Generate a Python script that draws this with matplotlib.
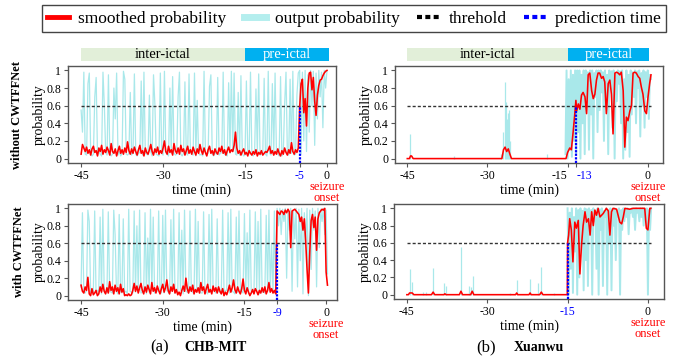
"""
Seizure prediction probability curves (CHB-MIT vs Xuanwu, with / without CWTFFNet)
"""

import numpy as np
import matplotlib
matplotlib.use('Agg')
import matplotlib.pyplot as plt
from matplotlib.lines import Line2D
from matplotlib.patches import Rectangle

plt.rcParams['font.family'] = 'Liberation Serif'

# ---------------- CHB-MIT (one sample every 0.25 min from -45 min) ----------------
chb_step = 0.25

chb_wo_smooth = [
    0.05, 0.16, 0.12, 0.08, 0.13, 0.06, 0.10, 0.04, 0.11, 0.14, 0.07, 0.09, 0.03, 0.12, 0.08, 0.15, 0.05, 0.10, 0.07, 0.13,
    0.09, 0.04, 0.17, 0.08, 0.06, 0.11, 0.03, 0.09, 0.14, 0.06, 0.10, 0.05, 0.12, 0.07, 0.19, 0.09, 0.05, 0.11, 0.06, 0.13,
    0.08, 0.04, 0.10, 0.15, 0.06, 0.09, 0.03, 0.12, 0.07, 0.05, 0.10, 0.16, 0.08, 0.04, 0.11, 0.07, 0.13, 0.05, 0.09, 0.06,
    0.12, 0.20, 0.08, 0.05, 0.14, 0.07, 0.10, 0.04, 0.17, 0.09, 0.06, 0.12, 0.05, 0.15, 0.08, 0.11, 0.04, 0.09, 0.14, 0.06,
    0.10, 0.05, 0.13, 0.08, 0.04, 0.11, 0.06, 0.16, 0.09, 0.05, 0.12, 0.07, 0.03, 0.10, 0.14, 0.06, 0.09, 0.04, 0.11, 0.07,
    0.05, 0.12, 0.08, 0.14, 0.06, 0.10, 0.04, 0.09, 0.13, 0.07, 0.10, 0.08, 0.15, 0.30, 0.12, 0.06, 0.09, 0.04, 0.08, 0.11,
    0.05, 0.07, 0.03, 0.09, 0.06, 0.04, 0.08, 0.05, 0.10, 0.03, 0.07, 0.05, 0.09, 0.04, 0.06, 0.08, 0.07, 0.10, 0.14, 0.06,
    0.09, 0.04, 0.08, 0.05, 0.11, 0.06, 0.03, 0.09, 0.05, 0.12, 0.07, 0.04, 0.10, 0.06, 0.18, 0.08, 0.05, 0.10, 0.07, 0.12,
    0.58, 0.85, 0.90, 0.52, 0.68, 0.37, 0.80, 0.97, 0.98, 0.78, 0.92, 0.65, 0.49, 0.72, 0.83, 0.89, 0.90, 0.94, 0.97, 0.99,
    1.00,
]
chb_wo_output = [
    0.55, 0.30, 0.98, 0.05, 0.04, 0.85, 0.97, 0.06, 0.03, 0.05, 0.70, 0.92, 0.04, 0.08, 0.05, 0.03, 0.98, 0.60, 0.07, 0.04,
    0.95, 0.06, 0.03, 0.05, 0.80, 0.45, 0.97, 0.04, 0.08, 0.03, 0.06, 0.99, 0.90, 0.05, 0.04, 0.06, 0.75, 0.04, 0.08, 0.96,
    0.05, 0.03, 0.06, 0.07, 0.88, 0.04, 0.98, 0.06, 0.05, 0.04, 0.72, 0.08, 0.03, 0.95, 0.62, 0.05, 0.04, 0.03, 0.97, 0.06,
    0.04, 0.99, 0.07, 0.05, 0.03, 0.80, 0.06, 0.93, 0.06, 0.04, 0.05, 0.70, 0.98, 0.05, 0.03, 0.06, 0.87, 0.06, 0.04, 0.96,
    0.08, 0.05, 0.04, 0.97, 0.03, 0.66, 0.06, 0.04, 0.05, 0.03, 0.99, 0.07, 0.04, 0.06, 0.82, 0.95, 0.05, 0.03, 0.07, 0.05,
    0.92, 0.04, 0.06, 0.07, 0.98, 0.05, 0.04, 0.03, 0.86, 0.06, 0.99, 0.08, 0.97, 0.05, 0.04, 0.75, 0.04, 0.94, 0.06, 0.03,
    0.04, 0.88, 0.06, 0.05, 0.98, 0.05, 0.03, 0.06, 0.79, 0.07, 0.96, 0.04, 0.05, 0.06, 0.91, 0.05, 0.03, 0.99, 0.06, 0.04,
    0.85, 0.04, 0.97, 0.07, 0.05, 0.03, 0.93, 0.03, 0.06, 0.62, 0.98, 0.05, 0.04, 0.90, 0.06, 0.99, 0.04, 0.05, 0.72, 0.97,
    1.00, 0.05, 0.98, 0.20, 1.00, 0.08, 0.95, 0.30, 1.00, 0.60, 0.99, 0.15, 0.97, 0.45, 1.00, 0.70, 0.98, 0.35, 1.00, 0.80,
    1.00,
]
chb_wo_pred = -5

chb_w_smooth = [
    0.12, 0.05, 0.03, 0.10, 0.06, 0.21, 0.02, 0.00, 0.08, 0.01, 0.03, 0.06, 0.00, 0.02, 0.10, 0.04, 0.13, 0.05, 0.02, 0.09,
    0.03, 0.16, 0.06, 0.10, 0.02, 0.12, 0.05, 0.09, 0.02, 0.13, 0.04, 0.08, 0.00, 0.01, 0.00, 0.02, 0.00, 0.01, 0.06, 0.14,
    0.05, 0.11, 0.03, 0.09, 0.14, 0.06, 0.02, 0.10, 0.04, 0.12, 0.07, 0.02, 0.15, 0.05, 0.09, 0.03, 0.11, 0.06, 0.02, 0.08,
    0.13, 0.04, 0.09, 0.18, 0.06, 0.02, 0.10, 0.05, 0.13, 0.03, 0.07, 0.01, 0.04, 0.00, 0.06, 0.11, 0.05, 0.20, 0.08, 0.03,
    0.10, 0.05, 0.12, 0.02, 0.07, 0.04, 0.09, 0.03, 0.15, 0.06, 0.10, 0.02, 0.08, 0.13, 0.04, 0.07, 0.02, 0.11, 0.05, 0.09,
    0.03, 0.10, 0.05, 0.02, 0.08, 0.00, 0.04, 0.01, 0.06, 0.12, 0.04, 0.09, 0.18, 0.07, 0.03, 0.10, 0.05, 0.02, 0.08, 0.19,
    0.06, 0.02, 0.09, 0.04, 0.00, 0.03, 0.07, 0.02, 0.08, 0.05, 0.01, 0.06, 0.03, 0.09, 0.04, 0.10, 0.02, 0.06, 0.15, 0.04,
    0.08, 0.03, 0.06, 0.02, 0.97, 0.95, 0.93, 0.97, 0.96, 0.93, 0.98, 0.95, 0.99, 0.96, 0.55, 0.97, 0.98, 0.99, 0.97, 0.95,
    0.93, 0.85, 0.90, 0.75, 0.88, 0.62, 0.30, 0.03, 0.50, 0.86, 0.93, 0.78, 0.90, 0.52, 0.88, 0.95, 0.97, 0.99, 0.98, 1.00,
    0.27, 0.12,
]
chb_w_output = [
    0.10, 0.95, 0.05, 0.03, 0.06, 0.98, 0.85, 0.04, 0.05, 0.03, 0.97, 0.03, 0.06, 0.05, 0.90, 0.02, 0.99, 0.06, 0.04, 0.03,
    0.96, 0.05, 0.04, 0.03, 0.98, 0.70, 0.05, 0.02, 0.93, 0.05, 0.03, 0.88, 0.04, 0.05, 0.02, 0.99, 0.05, 0.04, 0.03, 0.97,
    0.04, 0.80, 0.06, 0.98, 0.03, 0.04, 0.05, 0.95, 0.02, 0.66, 0.04, 0.99, 0.06, 0.90, 0.03, 0.05, 0.05, 0.97, 0.04, 0.03,
    0.92, 0.03, 0.98, 0.06, 0.04, 0.02, 0.87, 0.05, 0.99, 0.03, 0.05, 0.04, 0.95, 0.06, 0.75, 0.02, 0.98, 0.05, 0.04, 0.03,
    0.97, 0.05, 0.04, 0.02, 0.99, 0.04, 0.85, 0.06, 0.03, 0.03, 0.96, 0.05, 0.04, 0.02, 0.93, 0.04, 0.99, 0.06, 0.05, 0.03,
    0.88, 0.05, 0.04, 0.02, 0.98, 0.04, 0.06, 0.06, 0.95, 0.03, 0.99, 0.05, 0.04, 0.02, 0.90, 0.04, 0.97, 0.06, 0.05, 0.03,
    0.94, 0.04, 0.72, 0.02, 0.98, 0.05, 0.04, 0.03, 0.96, 0.06, 0.85, 0.02, 0.99, 0.04, 0.05, 0.03, 0.92, 0.05, 0.98, 0.04,
    0.60, 0.03, 0.97, 0.05, 1.00, 0.80, 1.00, 0.70, 0.99, 0.85, 1.00, 0.20, 0.98, 0.75, 1.00, 0.05, 0.97, 0.65, 1.00, 0.10,
    0.99, 0.40, 1.00, 0.02, 0.95, 0.60, 1.00, 0.00, 0.98, 0.30, 1.00, 0.75, 0.97, 0.10, 1.00, 0.55, 0.99, 0.85, 1.00, 0.70,
    0.98, 0.25,
]
chb_w_pred = -9

# ---------------- Xuanwu ----------------
# smoothed probability (time in min, value)
xw_wo_smooth_t = [-45.0, -44.6, -44.4, -44.2, -43.9, -27.3, -27.0, -26.7, -26.4, -26.1, -25.8, -25.5,
                  -15.3, -15.0, -14.6, -14.3, -13.95, -13.65, -13.45, -13.3, -13.0, -12.7, -12.4, -12.1,
                  -11.75, -11.45, -11.15, -10.85, -10.5, -10.2, -9.9, -9.6, -9.3, -9.0, -8.65, -8.35,
                  -8.05, -7.75, -7.4, -7.1, -6.8, -6.5, -6.15, -5.85, -5.55, -5.25, -4.95, -4.6,
                  -4.3, -4.0, -3.7, -3.35, -3.05, -2.75, -2.45, -2.15, -1.8, -1.5, -1.2, -0.9,
                  -0.55, -0.25, 0.05, 0.35, 0.6]
xw_wo_smooth_p = [0.0, 0.0, 0.03, 0.03, 0.0, 0.0, 0.10, 0.13, 0.08, 0.11, 0.05, 0.0,
                  0.0, 0.07, 0.12, 0.10, 0.31, 0.51, 0.66, 0.54, 0.62, 0.56, 0.72, 0.75,
                  0.70, 0.51, 0.95, 0.97, 0.77, 0.68, 0.73, 0.89, 0.97, 0.97, 0.91, 0.93,
                  0.87, 0.51, 0.85, 0.89, 0.73, 0.28, 0.97, 0.98, 0.97, 0.95, 0.98, 0.77,
                  0.13, 0.47, 0.43, 0.54, 0.60, 0.97, 0.98, 0.97, 0.93, 0.91, 0.81, 0.73,
                  0.54, 0.51, 0.70, 0.85, 0.95]
# isolated output spikes in the inter-ictal part (time, height)
xw_wo_spike_t = [-44.45, -36.2, -27.4, -27.1, -26.8, -26.6, -26.4, -26.2, -26.0, -25.8, -18.9]
xw_wo_spike_p = [0.28, 0.03, 0.05, 0.30, 0.87, 0.64, 0.45, 0.52, 0.55, 0.20, 0.05]
# dense output around the pre-ictal part, one sample every 0.2 min
xw_wo_dense_t0 = -15.4
xw_wo_dense = [
    0.05, 1.0, 0.0, 0.9, 0.1, 1.0, 0.02, 0.95, 0.2, 1.0, 0.05, 1.0, 0.3,
    1.0, 0.0, 0.95, 0.4, 1.0, 0.05, 1.0, 0.6, 0.98, 0.1, 1.0, 0.5, 1.0, 0.0, 0.97, 0.7, 1.0, 0.3, 1.0, 0.55,
    1.0, 0.75, 0.98, 0.2, 1.0, 0.6, 0.95, 0.05, 1.0, 0.8, 0.99, 0.35, 1.0, 0.0, 0.97, 0.65, 1.0, 0.85, 0.99, 0.4,
    1.0, 0.0, 0.9, 0.1, 1.0, 0.3, 0.95, 0.02, 1.0, 0.5, 0.98, 0.7, 1.0, 0.4, 0.99, 0.8, 1.0, 0.25, 0.97, 0.6,
    1.0, 0.35, 0.98, 0.7, 1.0, 0.45, 0.95, 0.9,
]
xw_wo_pred = -13.4

xw_w_smooth_t = [-45.0, -44.7, -44.5, -44.3, -44.0, -43.7, -40.4, -40.1, -39.8, -38.1, -37.9, -37.7,
                 -35.2, -34.9, -34.6, -33.1, -32.8, -32.5, -24.7, -24.5, -24.3, -22.2, -22.0, -21.8,
                 -20.2, -19.9, -19.6, -15.05, -15.0, -14.8, -14.6, -14.3, -14.0, -13.65, -13.35, -13.0,
                 -12.7, -12.4, -12.1, -11.75, -11.45, -11.1, -10.8, -10.5, -10.2, -9.9, -9.6, -9.3,
                 -8.95, -8.35, -7.75, -7.4, -7.1, -6.8, -6.5, -5.85, -5.25, -4.9, -4.6, -4.3,
                 -3.4, -2.75, -1.5, -0.6, -0.3, 0.0, 0.35, 0.55]
xw_w_smooth_p = [0.0, 0.0, 0.02, 0.02, 0.02, 0.0, 0.0, 0.03, 0.0, 0.0, 0.01, 0.0,
                 0.0, 0.04, 0.0, 0.0, 0.04, 0.0, 0.0, 0.02, 0.0, 0.0, 0.02, 0.0,
                 0.0, 0.03, 0.0, 0.0, 0.60, 0.69, 0.88, 0.75, 0.38, 0.84, 0.77, 0.86,
                 0.24, 0.57, 0.80, 0.96, 0.84, 0.88, 0.69, 0.96, 0.80, 0.98, 0.92, 1.0,
                 0.90, 0.94, 1.0, 0.97, 0.69, 0.96, 1.0, 0.99, 0.84, 0.82, 0.90, 1.0,
                 0.99, 1.0, 1.0, 1.0, 0.77, 0.75, 1.0, 1.0]
xw_w_spike_t = [-44.4, -44.0, -41.95, -41.5, -40.1, -38.0, -37.7, -34.9, -33.4, -33.0, -32.6,
                -25.8, -24.4, -22.0, -20.5, -19.9, -17.6]
xw_w_spike_p = [0.30, 0.15, 0.03, 0.03, 0.31, 0.14, 0.10, 0.55, 0.10, 0.09, 0.22,
                0.02, 0.17, 0.18, 0.14, 0.32, 0.02]
xw_w_dense_t0 = -15.0
xw_w_dense = [
    1.0, 0.0, 0.95, 0.3, 1.0, 0.02, 0.9, 0.5, 1.0, 0.0, 0.98, 0.2, 1.0, 0.6, 0.97, 0.05, 1.0, 0.4, 0.99, 0.1,
    1.0, 0.7, 0.98, 0.0, 1.0, 0.85, 0.95, 0.3, 1.0, 0.0, 0.99, 0.75, 1.0, 0.1, 0.97, 0.9, 1.0, 0.0, 0.98, 0.6,
    1.0, 0.05, 0.99, 0.8, 1.0, 0.4, 0.97, 0.9, 1.0, 0.0, 0.98, 0.75, 1.0, 0.85, 0.99, 0.9, 1.0, 0.7, 0.98, 0.95,
    1.0, 0.9, 0.99, 0.75, 1.0, 0.95, 0.98, 0.85, 1.0, 0.9, 1.0, 0.8, 0.99, 0.95, 1.0, 0.0, 0.98, 0.75, 1.0,
]
xw_dense_step = 0.2
xw_w_pred = -15

threshold = 0.6
x_ticks = [-45, -30, -15, 0]

RED = '#ff0000'
CYAN = '#a9e8ea'
BLUE = '#0000ff'
GREEN_BAND = '#e2efd9'
BLUE_BAND = '#00b0f0'
FRAME = '#555555'

W, H = 683, 360
fig = plt.figure(figsize=(W / 100, H / 100), dpi=100)


def px_axes(left, top, right, bottom):
    """Axes placed with pixel edges of the reference"""
    return fig.add_axes([left / W, 1 - bottom / H, (right - left) / W, (bottom - top) / H])


def draw_panel(ax, t_out, p_out, t_sm, p_sm, pred, xlim, spikes=None, out_lw=0.9):
    """Draws one probability panel"""
    ax.plot(t_out, p_out, color=CYAN, lw=out_lw, zorder=1)
    if spikes is not None:
        ax.vlines(spikes[0], 0, spikes[1], color=CYAN, lw=0.9, zorder=1)
    ax.hlines(threshold, -45, max(t_sm), color='#333333', lw=1.0,
              linestyles=(0, (2.2, 1.5)), zorder=2)
    ax.plot(t_sm, p_sm, color=RED, lw=1.15, zorder=3)
    ax.vlines(pred, -0.05, threshold, color=BLUE, lw=1.6,
              linestyles=(0, (1.0, 0.6)), zorder=4, clip_on=False)

    ax.set_xlim(*xlim)
    ax.set_ylim(-0.05, 1.05)
    ax.set_yticks([0, 0.2, 0.4, 0.6, 0.8, 1])
    ax.set_yticklabels(['0', '0.2', '0.4', '0.6', '0.8', '1'], fontsize=8.5)
    ax.set_ylabel('probability', fontsize=10)
    ax.yaxis.set_label_coords(-0.083, 0.5)
    ax.set_xlabel('time (min)', fontsize=10, labelpad=1)
    for sp in ax.spines.values():
        sp.set_color(FRAME)
        sp.set_linewidth(1.0)
    ax.tick_params(direction='out', length=3, width=0.8, color=FRAME, pad=2)

    # tick labels, prediction time in blue
    ticks = sorted(set(x_ticks + [pred]))
    ax.set_xticks(ticks)
    labels = ax.set_xticklabels(['%d' % round(v) for v in ticks], fontsize=8.5)
    near = pred != -15 and abs(pred + 15) < 2.5
    for v, lab in zip(ticks, labels):
        if v == pred:
            lab.set_color(BLUE)
            if near:
                lab.set_ha('left')
                lab.set_x(pred - 0.3)
        if v == -15 and near:
            lab.set_ha('right')
            lab.set_x(-14.3)

    ax.text(0, -0.19, 'seizure\nonset', transform=ax.get_xaxis_transform(), color=RED,
            ha='center', va='top', fontsize=9, linespacing=0.85)


def draw_phase_band(ax):
    """Inter-ictal / pre-ictal band above the panel"""
    tr = ax.get_xaxis_transform()
    ax.add_patch(Rectangle((-45, 1.05), 30, 0.135, transform=tr, facecolor=GREEN_BAND,
                           edgecolor='none', clip_on=False))
    ax.add_patch(Rectangle((-15, 1.05), 15.3, 0.135, transform=tr, facecolor=BLUE_BAND,
                           edgecolor='none', clip_on=False))
    ax.text(-30, 1.118, 'inter-ictal', transform=tr, ha='center', va='center', fontsize=10.5)
    ax.text(-7.35, 1.118, 'pre-ictal', transform=tr, ha='center', va='center', fontsize=10.5,
            color='white')


chb_t_wo = -45 + chb_step * np.arange(len(chb_wo_output))
chb_t_w = -45 + chb_step * np.arange(len(chb_w_output))
xw_t_wo = xw_wo_dense_t0 + xw_dense_step * np.arange(len(xw_wo_dense))
xw_t_w = xw_w_dense_t0 + xw_dense_step * np.arange(len(xw_w_dense))

ax_tl = px_axes(68, 66, 336, 163)
draw_panel(ax_tl, chb_t_wo, chb_wo_output, chb_t_wo, chb_wo_smooth, chb_wo_pred, (-47.4, 1.65))
draw_phase_band(ax_tl)

ax_tr = px_axes(395, 66, 663, 163)
draw_panel(ax_tr, xw_t_wo, xw_wo_dense, xw_wo_smooth_t, xw_wo_smooth_p, xw_wo_pred, (-47.3, 2.85),
           spikes=(xw_wo_spike_t, xw_wo_spike_p), out_lw=1.4)
draw_phase_band(ax_tr)

ax_bl = px_axes(68, 204, 337, 300)
draw_panel(ax_bl, chb_t_w, chb_w_output, chb_t_w, chb_w_smooth, chb_w_pred, (-47.4, 2.0))

ax_br = px_axes(394, 204, 664, 299)
draw_panel(ax_br, xw_t_w, xw_w_dense, xw_w_smooth_t, xw_w_smooth_p, xw_w_pred, (-47.4, 3.0),
           spikes=(xw_w_spike_t, xw_w_spike_p), out_lw=1.4)

# row labels
fig.text(17 / W, 1 - 115 / H, 'without CWTFFNet', rotation=90, ha='center', va='center',
         fontsize=9, fontweight='bold')
fig.text(19 / W, 1 - 252 / H, 'with CWTFFNet', rotation=90, ha='center', va='center',
         fontsize=9, fontweight='bold')

# captions
fig.text(160 / W, 9 / H, '(a)', ha='center', va='baseline', fontsize=12)
fig.text(216 / W, 9 / H, 'CHB-MIT', ha='center', va='baseline', fontsize=10, fontweight='bold')
fig.text(486 / W, 9 / H, '(b)', ha='center', va='baseline', fontsize=12)
fig.text(539 / W, 9 / H, 'Xuanwu', ha='center', va='baseline', fontsize=10, fontweight='bold')

# legend on top
handles = [
    Line2D([], [], color=RED, lw=3.5),
    Line2D([], [], color='#b4eeee', lw=5),
    Line2D([], [], color='black', lw=3, linestyle=(0, (1.2, 0.8))),
    Line2D([], [], color=BLUE, lw=3, linestyle=(0, (1.2, 0.8))),
]
leg = fig.legend(handles, ['smoothed probability', 'output probability', 'threhold', 'prediction time'],
                 loc='center', bbox_to_anchor=(354 / W, 1 - 18.5 / H), ncol=4, fontsize=12.5,
                 frameon=True, fancybox=False, edgecolor='#444444', framealpha=1,
                 handlelength=1.3, handletextpad=0.5, columnspacing=1.0, borderpad=0.3)
leg.get_frame().set_linewidth(1.0)

fig.savefig('out.png', dpi=100)
plt.close(fig)
